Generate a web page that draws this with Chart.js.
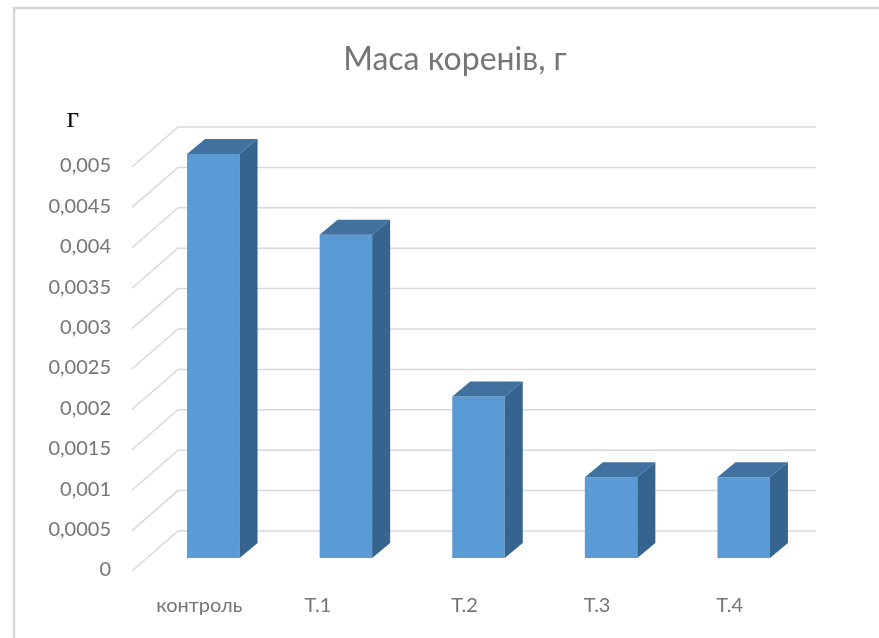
<!DOCTYPE html>
<html>
<head>
<meta charset="utf-8">
<title>Маса коренів, г</title>
<script src="https://cdn.jsdelivr.net/npm/chart.js@4"></script>
<style>
    html, body { margin: 0; padding: 0; background: #fff; }
    #chart { display: block; filter: blur(0.6px); }
</style>
</head>
<body>
<canvas id="chart" width="879" height="638"></canvas>
<script>
const categories = ['контроль', 'Т.1', 'Т.2', 'Т.3', 'Т.4'];
const rootMass = [0.005, 0.004, 0.002, 0.001, 0.001];
const yTickLabels = ['0', '0,0005', '0,001', '0,0015', '0,002', '0,0025', '0,003', '0,0035', '0,004', '0,0045', '0,005'];
const chartTitle = 'Маса коренів, г';
const unitLabel = 'г';

const FONT = 'Lato, "Open Sans", sans-serif';
const TEXT_COLOR = '#757575';
const GRID_COLOR = '#d9d9d9';
const DEPTH_X = 18;
const DEPTH_Y = 15;
// the category labels sit left of their bars in the original, the first two unevenly
const labelShift = [-14, -28, -14, -14, -14];

const scene3d = {
    id: 'scene3d',
    beforeDraw(chart) {
        // picture frame: only the top and left edges show
        const ctx = chart.ctx;
        ctx.save();
        ctx.strokeStyle = '#d6d6d6';
        ctx.lineWidth = 2.5;
        ctx.beginPath();
        ctx.moveTo(14, 638);
        ctx.lineTo(14, 8);
        ctx.lineTo(879, 8);
        ctx.stroke();
        ctx.restore();
    },
    beforeDatasetsDraw(chart) {
        // back wall and side wall lines
        const ctx = chart.ctx;
        const y = chart.scales.y;
        ctx.save();
        ctx.strokeStyle = GRID_COLOR;
        ctx.lineWidth = 1.5;
        y.ticks.forEach(t => {
            const py = y.getPixelForValue(t.value);
            ctx.beginPath();
            ctx.moveTo(132, py + 13);
            ctx.lineTo(178, py - 27);
            ctx.lineTo(816, py - 27);
            ctx.stroke();
        });
        ctx.restore();
    },
    afterDatasetsDraw(chart) {
        const ctx = chart.ctx;
        const bars = chart.getDatasetMeta(0).data;
        ctx.save();
        bars.forEach(b => {
            const l = b.x - b.width / 2, r = b.x + b.width / 2;
            ctx.fillStyle = '#41719f';
            ctx.beginPath();
            ctx.moveTo(l, b.y);
            ctx.lineTo(l + DEPTH_X, b.y - DEPTH_Y);
            ctx.lineTo(r + DEPTH_X, b.y - DEPTH_Y);
            ctx.lineTo(r, b.y);
            ctx.closePath();
            ctx.fill();
            ctx.fillStyle = '#35648f';
            ctx.beginPath();
            ctx.moveTo(r, b.y);
            ctx.lineTo(r + DEPTH_X, b.y - DEPTH_Y);
            ctx.lineTo(r + DEPTH_X, b.base - DEPTH_Y);
            ctx.lineTo(r, b.base);
            ctx.closePath();
            ctx.fill();
        });
        ctx.restore();
    },
    afterDraw(chart) {
        const ctx = chart.ctx;
        const x = chart.scales.x;
        ctx.save();
        ctx.textAlign = 'center';
        ctx.textBaseline = 'middle';
        ctx.fillStyle = TEXT_COLOR;
        ctx.font = '32px ' + FONT;
        ctx.fillText(chartTitle, 455, 60);
        ctx.font = '20px ' + FONT;
        categories.forEach((c, i) => {
            ctx.fillText(c, x.getPixelForValue(i) + labelShift[i], 606);
        });
        ctx.fillStyle = '#111';
        ctx.font = '30px "Liberation Serif", serif';
        ctx.textBaseline = 'alphabetic';
        ctx.fillText(unitLabel, 73, 127);
        ctx.restore();
    }
};

new Chart(document.getElementById('chart'), {
    type: 'bar',
    data: {
        labels: categories,
        datasets: [{
            data: rootMass,
            backgroundColor: '#5b9bd5',
            borderWidth: 0,
            categoryPercentage: 1,
            barPercentage: 0.396
        }]
    },
    options: {
        responsive: false,
        animation: false,
        layout: { padding: { top: 154, right: 69 } },
        plugins: {
            legend: { display: false },
            title: { display: false },
            tooltip: { enabled: false }
        },
        scales: {
            x: {
                afterFit: s => { s.height = 80; },
                grid: { display: false },
                border: { display: false },
                ticks: { display: false }
            },
            y: {
                min: 0,
                max: 0.005,
                afterFit: s => { s.width = 147; },
                grid: { display: false },
                border: { display: false },
                ticks: {
                    stepSize: 0.0005,
                    padding: 28,
                    labelOffset: 12,
                    color: TEXT_COLOR,
                    font: { family: FONT, size: 20 },
                    callback: (value, index) => yTickLabels[index]
                }
            }
        }
    },
    plugins: [scene3d]
});
</script>
</body>
</html>
